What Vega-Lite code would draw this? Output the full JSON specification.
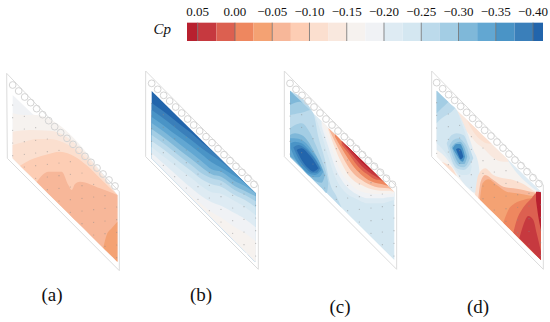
{"$schema":"https://vega.github.io/schema/vega-lite/v6.json","width":550,"height":322,"padding":0,"autosize":{"type":"fit","contains":"padding"},"background":"white","config":{"view":{"stroke":null}},
"datasets":{
"frame":[
{"p":"a","o":0,"x":20,"y":40},{"p":"a","o":1,"x":22,"y":295},{"p":"a","o":2,"x":358,"y":632},{"p":"a","o":3,"x":358,"y":395},{"p":"a","o":4,"x":20,"y":40},
{"p":"b","o":0,"x":437,"y":33},{"p":"b","o":1,"x":437,"y":290},{"p":"b","o":2,"x":775,"y":628},{"p":"b","o":3,"x":775,"y":375},{"p":"b","o":4,"x":437,"y":33},
{"p":"c","o":0,"x":853,"y":33},{"p":"c","o":1,"x":853,"y":290},{"p":"c","o":2,"x":1190,"y":628},{"p":"c","o":3,"x":1190,"y":380},{"p":"c","o":4,"x":853,"y":33},
{"p":"d","o":0,"x":1295,"y":33},{"p":"d","o":1,"x":1295,"y":290},{"p":"d","o":2,"x":1630,"y":628},{"p":"d","o":3,"x":1630,"y":375},{"p":"d","o":4,"x":1295,"y":33}],
"areas":[
{"p":"a0","cp":-0.19,"x":38,"y":105,"y2":295},{"p":"a0","cp":-0.19,"x":352,"y":405,"y2":605},
{"p":"a1","cp":-0.16,"x":38,"y":160,"y2":295},{"p":"a1","cp":-0.16,"x":70,"y":165,"y2":327},{"p":"a1","cp":-0.16,"x":100,"y":164,"y2":356},{"p":"a1","cp":-0.16,"x":352,"y":405,"y2":605},
{"p":"a2","cp":-0.14,"x":38,"y":215,"y2":295},{"p":"a2","cp":-0.14,"x":90,"y":210,"y2":346},{"p":"a2","cp":-0.14,"x":150,"y":212,"y2":406},{"p":"a2","cp":-0.14,"x":352,"y":405,"y2":605},
{"p":"a3","cp":-0.11,"x":38,"y":255,"y2":295},{"p":"a3","cp":-0.11,"x":75,"y":245,"y2":332},{"p":"a3","cp":-0.11,"x":110,"y":237,"y2":366},{"p":"a3","cp":-0.11,"x":150,"y":237,"y2":406},{"p":"a3","cp":-0.11,"x":185,"y":245,"y2":440},{"p":"a3","cp":-0.11,"x":352,"y":405,"y2":605},
{"p":"a4","cp":-0.09,"x":60,"y":317,"y2":317},{"p":"a4","cp":-0.09,"x":90,"y":300,"y2":346},{"p":"a4","cp":-0.09,"x":135,"y":285,"y2":391},{"p":"a4","cp":-0.09,"x":180,"y":275,"y2":435},{"p":"a4","cp":-0.09,"x":225,"y":290,"y2":480},{"p":"a4","cp":-0.09,"x":270,"y":325,"y2":524},{"p":"a4","cp":-0.09,"x":300,"y":355,"y2":554},{"p":"a4","cp":-0.09,"x":352,"y":405,"y2":605},
{"p":"a5","cp":-0.06,"x":110,"y":366,"y2":366},{"p":"a5","cp":-0.06,"x":145,"y":335,"y2":401},{"p":"a5","cp":-0.06,"x":185,"y":335,"y2":440},{"p":"a5","cp":-0.06,"x":205,"y":375,"y2":460},{"p":"a5","cp":-0.06,"x":215,"y":390,"y2":470},{"p":"a5","cp":-0.06,"x":225,"y":372,"y2":480},{"p":"a5","cp":-0.06,"x":240,"y":365,"y2":494},{"p":"a5","cp":-0.06,"x":300,"y":385,"y2":554},{"p":"a5","cp":-0.06,"x":352,"y":405,"y2":605},
{"p":"a6","cp":-0.04,"x":310,"y":563,"y2":563},{"p":"a6","cp":-0.04,"x":320,"y":525,"y2":573},{"p":"a6","cp":-0.04,"x":335,"y":505,"y2":588},{"p":"a6","cp":-0.04,"x":352,"y":485,"y2":605},

{"p":"b0","cp":-0.41,"x":455,"y":93,"y2":294},{"p":"b0","cp":-0.41,"x":767,"y":400,"y2":606},
{"p":"b1","cp":-0.39,"x":455,"y":129,"y2":294},{"p":"b1","cp":-0.39,"x":485,"y":150,"y2":324},{"p":"b1","cp":-0.39,"x":515,"y":173,"y2":354},{"p":"b1","cp":-0.39,"x":545,"y":197,"y2":384},{"p":"b1","cp":-0.39,"x":575,"y":220,"y2":414},{"p":"b1","cp":-0.39,"x":605,"y":247,"y2":444},{"p":"b1","cp":-0.39,"x":635,"y":271,"y2":474},{"p":"b1","cp":-0.39,"x":665,"y":300,"y2":504},{"p":"b1","cp":-0.39,"x":705,"y":340,"y2":544},{"p":"b1","cp":-0.39,"x":735,"y":369,"y2":574},{"p":"b1","cp":-0.39,"x":767,"y":400,"y2":606},
{"p":"b2","cp":-0.36,"x":455,"y":150,"y2":294},{"p":"b2","cp":-0.36,"x":485,"y":171,"y2":324},{"p":"b2","cp":-0.36,"x":515,"y":194,"y2":354},{"p":"b2","cp":-0.36,"x":545,"y":218,"y2":384},{"p":"b2","cp":-0.36,"x":575,"y":241,"y2":414},{"p":"b2","cp":-0.36,"x":605,"y":265,"y2":444},{"p":"b2","cp":-0.36,"x":635,"y":286,"y2":474},{"p":"b2","cp":-0.36,"x":665,"y":306,"y2":504},{"p":"b2","cp":-0.36,"x":705,"y":340,"y2":544},{"p":"b2","cp":-0.36,"x":735,"y":369,"y2":574},{"p":"b2","cp":-0.36,"x":767,"y":400,"y2":606},
{"p":"b3","cp":-0.34,"x":455,"y":171,"y2":294},{"p":"b3","cp":-0.34,"x":485,"y":192,"y2":324},{"p":"b3","cp":-0.34,"x":515,"y":215,"y2":354},{"p":"b3","cp":-0.34,"x":545,"y":236,"y2":384},{"p":"b3","cp":-0.34,"x":575,"y":259,"y2":414},{"p":"b3","cp":-0.34,"x":605,"y":283,"y2":444},{"p":"b3","cp":-0.34,"x":635,"y":307,"y2":474},{"p":"b3","cp":-0.34,"x":665,"y":324,"y2":504},{"p":"b3","cp":-0.34,"x":705,"y":349,"y2":544},{"p":"b3","cp":-0.34,"x":735,"y":369,"y2":574},{"p":"b3","cp":-0.34,"x":767,"y":400,"y2":606},
{"p":"b4","cp":-0.31,"x":455,"y":189,"y2":294},{"p":"b4","cp":-0.31,"x":485,"y":210,"y2":324},{"p":"b4","cp":-0.31,"x":515,"y":233,"y2":354},{"p":"b4","cp":-0.31,"x":545,"y":257,"y2":384},{"p":"b4","cp":-0.31,"x":575,"y":280,"y2":414},{"p":"b4","cp":-0.31,"x":605,"y":304,"y2":444},{"p":"b4","cp":-0.31,"x":635,"y":328,"y2":474},{"p":"b4","cp":-0.31,"x":665,"y":336,"y2":504},{"p":"b4","cp":-0.31,"x":705,"y":364,"y2":544},{"p":"b4","cp":-0.31,"x":735,"y":378,"y2":574},{"p":"b4","cp":-0.31,"x":767,"y":400,"y2":606},
{"p":"b5","cp":-0.29,"x":455,"y":207,"y2":294},{"p":"b5","cp":-0.29,"x":485,"y":228,"y2":324},{"p":"b5","cp":-0.29,"x":515,"y":251,"y2":354},{"p":"b5","cp":-0.29,"x":545,"y":275,"y2":384},{"p":"b5","cp":-0.29,"x":575,"y":298,"y2":414},{"p":"b5","cp":-0.29,"x":605,"y":322,"y2":444},{"p":"b5","cp":-0.29,"x":635,"y":343,"y2":474},{"p":"b5","cp":-0.29,"x":665,"y":351,"y2":504},{"p":"b5","cp":-0.29,"x":705,"y":379,"y2":544},{"p":"b5","cp":-0.29,"x":735,"y":393,"y2":574},{"p":"b5","cp":-0.29,"x":767,"y":409,"y2":606},
{"p":"b6","cp":-0.26,"x":455,"y":225,"y2":294},{"p":"b6","cp":-0.26,"x":485,"y":246,"y2":324},{"p":"b6","cp":-0.26,"x":515,"y":269,"y2":354},{"p":"b6","cp":-0.26,"x":545,"y":293,"y2":384},{"p":"b6","cp":-0.26,"x":575,"y":316,"y2":414},{"p":"b6","cp":-0.26,"x":605,"y":340,"y2":444},{"p":"b6","cp":-0.26,"x":635,"y":355,"y2":474},{"p":"b6","cp":-0.26,"x":665,"y":363,"y2":504},{"p":"b6","cp":-0.26,"x":705,"y":391,"y2":544},{"p":"b6","cp":-0.26,"x":735,"y":405,"y2":574},{"p":"b6","cp":-0.26,"x":767,"y":424,"y2":606},
{"p":"b7","cp":-0.24,"x":455,"y":243,"y2":294},{"p":"b7","cp":-0.24,"x":485,"y":264,"y2":324},{"p":"b7","cp":-0.24,"x":515,"y":287,"y2":354},{"p":"b7","cp":-0.24,"x":545,"y":311,"y2":384},{"p":"b7","cp":-0.24,"x":575,"y":334,"y2":414},{"p":"b7","cp":-0.24,"x":605,"y":358,"y2":444},{"p":"b7","cp":-0.24,"x":635,"y":373,"y2":474},{"p":"b7","cp":-0.24,"x":665,"y":381,"y2":504},{"p":"b7","cp":-0.24,"x":705,"y":406,"y2":544},{"p":"b7","cp":-0.24,"x":735,"y":420,"y2":574},{"p":"b7","cp":-0.24,"x":767,"y":442,"y2":606},
{"p":"b8","cp":-0.21,"x":455,"y":261,"y2":294},{"p":"b8","cp":-0.21,"x":485,"y":285,"y2":324},{"p":"b8","cp":-0.21,"x":515,"y":308,"y2":354},{"p":"b8","cp":-0.21,"x":545,"y":332,"y2":384},{"p":"b8","cp":-0.21,"x":575,"y":355,"y2":414},{"p":"b8","cp":-0.21,"x":605,"y":379,"y2":444},{"p":"b8","cp":-0.21,"x":635,"y":397,"y2":474},{"p":"b8","cp":-0.21,"x":665,"y":402,"y2":504},{"p":"b8","cp":-0.21,"x":705,"y":424,"y2":544},{"p":"b8","cp":-0.21,"x":735,"y":441,"y2":574},{"p":"b8","cp":-0.21,"x":767,"y":466,"y2":606},
{"p":"b9","cp":-0.19,"x":455,"y":279,"y2":294},{"p":"b9","cp":-0.19,"x":485,"y":306,"y2":324},{"p":"b9","cp":-0.19,"x":515,"y":332,"y2":354},{"p":"b9","cp":-0.19,"x":545,"y":359,"y2":384},{"p":"b9","cp":-0.19,"x":575,"y":385,"y2":414},{"p":"b9","cp":-0.19,"x":605,"y":409,"y2":444},{"p":"b9","cp":-0.19,"x":635,"y":427,"y2":474},{"p":"b9","cp":-0.19,"x":665,"y":438,"y2":504},{"p":"b9","cp":-0.19,"x":705,"y":460,"y2":544},{"p":"b9","cp":-0.19,"x":735,"y":477,"y2":574},{"p":"b9","cp":-0.19,"x":767,"y":502,"y2":606},
{"p":"b10","cp":-0.16,"x":455,"y":294,"y2":294},{"p":"b10","cp":-0.16,"x":485,"y":324,"y2":324},{"p":"b10","cp":-0.16,"x":515,"y":353,"y2":354},{"p":"b10","cp":-0.16,"x":545,"y":383,"y2":384},{"p":"b10","cp":-0.16,"x":575,"y":409,"y2":414},{"p":"b10","cp":-0.16,"x":605,"y":433,"y2":444},{"p":"b10","cp":-0.16,"x":635,"y":457,"y2":474},{"p":"b10","cp":-0.16,"x":665,"y":474,"y2":504},{"p":"b10","cp":-0.16,"x":705,"y":502,"y2":544},{"p":"b10","cp":-0.16,"x":735,"y":519,"y2":574},{"p":"b10","cp":-0.16,"x":767,"y":544,"y2":606},

{"p":"c0","cp":-0.24,"x":870,"y":92,"y2":290},{"p":"c0","cp":-0.24,"x":1183,"y":396,"y2":600},
{"p":"c1","cp":-0.26,"x":870,"y":92,"y2":290},{"p":"c1","cp":-0.26,"x":940,"y":160,"y2":359},{"p":"c1","cp":-0.26,"x":955,"y":230,"y2":374},{"p":"c1","cp":-0.26,"x":975,"y":300,"y2":394},{"p":"c1","cp":-0.26,"x":990,"y":370,"y2":408},{"p":"c1","cp":-0.26,"x":1010,"y":410,"y2":428},{"p":"c1","cp":-0.26,"x":1025,"y":443,"y2":443},
{"p":"c2","cp":-0.21,"x":945,"y":165,"y2":165},{"p":"c2","cp":-0.21,"x":965,"y":184,"y2":225},{"p":"c2","cp":-0.21,"x":985,"y":204,"y2":290},{"p":"c2","cp":-0.21,"x":1005,"y":223,"y2":350},{"p":"c2","cp":-0.21,"x":1025,"y":243,"y2":385},{"p":"c2","cp":-0.21,"x":1045,"y":262,"y2":405},{"p":"c2","cp":-0.21,"x":1065,"y":281,"y2":415},{"p":"c2","cp":-0.21,"x":1085,"y":301,"y2":425},{"p":"c2","cp":-0.21,"x":1105,"y":320,"y2":430},{"p":"c2","cp":-0.21,"x":1125,"y":340,"y2":430},{"p":"c2","cp":-0.21,"x":1145,"y":359,"y2":430},{"p":"c2","cp":-0.21,"x":1165,"y":378,"y2":425},{"p":"c2","cp":-0.21,"x":1183,"y":396,"y2":420},
{"p":"c3","cp":-0.19,"x":965,"y":184,"y2":200},{"p":"c3","cp":-0.19,"x":985,"y":204,"y2":260},{"p":"c3","cp":-0.19,"x":1005,"y":223,"y2":320},{"p":"c3","cp":-0.19,"x":1025,"y":243,"y2":360},{"p":"c3","cp":-0.19,"x":1045,"y":262,"y2":385},{"p":"c3","cp":-0.19,"x":1065,"y":281,"y2":400},{"p":"c3","cp":-0.19,"x":1085,"y":301,"y2":410},{"p":"c3","cp":-0.19,"x":1105,"y":320,"y2":415},{"p":"c3","cp":-0.19,"x":1125,"y":340,"y2":415},{"p":"c3","cp":-0.19,"x":1145,"y":359,"y2":415},{"p":"c3","cp":-0.19,"x":1165,"y":378,"y2":412},{"p":"c3","cp":-0.19,"x":1183,"y":396,"y2":410},
{"p":"c4","cp":-0.16,"x":965,"y":184,"y2":188},{"p":"c4","cp":-0.16,"x":985,"y":204,"y2":235},{"p":"c4","cp":-0.16,"x":1005,"y":223,"y2":295},{"p":"c4","cp":-0.16,"x":1025,"y":243,"y2":340},{"p":"c4","cp":-0.16,"x":1045,"y":262,"y2":365},{"p":"c4","cp":-0.16,"x":1065,"y":281,"y2":385},{"p":"c4","cp":-0.16,"x":1085,"y":301,"y2":395},{"p":"c4","cp":-0.16,"x":1105,"y":320,"y2":400},{"p":"c4","cp":-0.16,"x":1125,"y":340,"y2":402},{"p":"c4","cp":-0.16,"x":1145,"y":359,"y2":402},{"p":"c4","cp":-0.16,"x":1165,"y":378,"y2":402},{"p":"c4","cp":-0.16,"x":1183,"y":396,"y2":400},
{"p":"c5","cp":-0.11,"x":985,"y":204,"y2":210},{"p":"c5","cp":-0.11,"x":1005,"y":223,"y2":265},{"p":"c5","cp":-0.11,"x":1025,"y":243,"y2":310},{"p":"c5","cp":-0.11,"x":1045,"y":262,"y2":345},{"p":"c5","cp":-0.11,"x":1065,"y":281,"y2":365},{"p":"c5","cp":-0.11,"x":1085,"y":301,"y2":375},{"p":"c5","cp":-0.11,"x":1105,"y":320,"y2":385},{"p":"c5","cp":-0.11,"x":1125,"y":340,"y2":390},{"p":"c5","cp":-0.11,"x":1145,"y":359,"y2":392},{"p":"c5","cp":-0.11,"x":1165,"y":378,"y2":392},{"p":"c5","cp":-0.11,"x":1183,"y":396,"y2":396},
{"p":"c6","cp":-0.06,"x":985,"y":204,"y2":204},{"p":"c6","cp":-0.06,"x":1005,"y":223,"y2":245},{"p":"c6","cp":-0.06,"x":1025,"y":243,"y2":285},{"p":"c6","cp":-0.06,"x":1045,"y":262,"y2":320},{"p":"c6","cp":-0.06,"x":1065,"y":281,"y2":345},{"p":"c6","cp":-0.06,"x":1085,"y":301,"y2":360},{"p":"c6","cp":-0.06,"x":1105,"y":320,"y2":372},{"p":"c6","cp":-0.06,"x":1125,"y":340,"y2":380},{"p":"c6","cp":-0.06,"x":1145,"y":359,"y2":383},{"p":"c6","cp":-0.06,"x":1165,"y":378,"y2":385},{"p":"c6","cp":-0.06,"x":1183,"y":396,"y2":396},
{"p":"c7","cp":-0.01,"x":1005,"y":223,"y2":230},{"p":"c7","cp":-0.01,"x":1025,"y":243,"y2":265},{"p":"c7","cp":-0.01,"x":1045,"y":262,"y2":297},{"p":"c7","cp":-0.01,"x":1065,"y":281,"y2":325},{"p":"c7","cp":-0.01,"x":1085,"y":301,"y2":345},{"p":"c7","cp":-0.01,"x":1105,"y":320,"y2":360},{"p":"c7","cp":-0.01,"x":1125,"y":340,"y2":368},{"p":"c7","cp":-0.01,"x":1145,"y":359,"y2":372},{"p":"c7","cp":-0.01,"x":1165,"y":378,"y2":378},
{"p":"c8","cp":0.01,"x":1025,"y":243,"y2":255},{"p":"c8","cp":0.01,"x":1045,"y":262,"y2":280},{"p":"c8","cp":0.01,"x":1065,"y":281,"y2":308},{"p":"c8","cp":0.01,"x":1085,"y":301,"y2":330},{"p":"c8","cp":0.01,"x":1105,"y":320,"y2":345},{"p":"c8","cp":0.01,"x":1125,"y":340,"y2":358},{"p":"c8","cp":0.01,"x":1145,"y":359,"y2":362},{"p":"c8","cp":0.01,"x":1165,"y":378,"y2":378},
{"p":"c9","cp":0.04,"x":1025,"y":243,"y2":245},{"p":"c9","cp":0.04,"x":1045,"y":262,"y2":270},{"p":"c9","cp":0.04,"x":1065,"y":281,"y2":295},{"p":"c9","cp":0.04,"x":1085,"y":301,"y2":318},{"p":"c9","cp":0.04,"x":1105,"y":320,"y2":335},{"p":"c9","cp":0.04,"x":1125,"y":340,"y2":348},{"p":"c9","cp":0.04,"x":1145,"y":359,"y2":359},
{"p":"c10","cp":0.06,"x":1035,"y":252,"y2":252},{"p":"c10","cp":0.06,"x":1045,"y":262,"y2":264},{"p":"c10","cp":0.06,"x":1065,"y":281,"y2":285},{"p":"c10","cp":0.06,"x":1085,"y":301,"y2":307},{"p":"c10","cp":0.06,"x":1105,"y":320,"y2":325},{"p":"c10","cp":0.06,"x":1125,"y":340,"y2":341},{"p":"c10","cp":0.06,"x":1135,"y":349,"y2":349},
{"p":"c11","cp":-0.29,"x":870,"y":92,"y2":165},{"p":"c11","cp":-0.29,"x":895,"y":116,"y2":160},{"p":"c11","cp":-0.29,"x":915,"y":136,"y2":155},{"p":"c11","cp":-0.29,"x":930,"y":150,"y2":150},
{"p":"c12","cp":-0.31,"x":870,"y":92,"y2":135},{"p":"c12","cp":-0.31,"x":885,"y":107,"y2":128},{"p":"c12","cp":-0.31,"x":900,"y":121,"y2":125},{"p":"c12","cp":-0.31,"x":910,"y":131,"y2":131},
{"p":"c13","cp":-0.29,"x":870,"y":205,"y2":290},{"p":"c13","cp":-0.29,"x":885,"y":195,"y2":305},{"p":"c13","cp":-0.29,"x":905,"y":190,"y2":325},{"p":"c13","cp":-0.29,"x":925,"y":210,"y2":345},{"p":"c13","cp":-0.29,"x":945,"y":250,"y2":365},{"p":"c13","cp":-0.29,"x":965,"y":300,"y2":384},{"p":"c13","cp":-0.29,"x":980,"y":345,"y2":399},{"p":"c13","cp":-0.29,"x":985,"y":370,"y2":370},
{"p":"c14","cp":-0.31,"x":870,"y":225,"y2":290},{"p":"c14","cp":-0.31,"x":885,"y":220,"y2":305},{"p":"c14","cp":-0.31,"x":905,"y":225,"y2":325},{"p":"c14","cp":-0.31,"x":925,"y":245,"y2":345},{"p":"c14","cp":-0.31,"x":945,"y":280,"y2":362},{"p":"c14","cp":-0.31,"x":965,"y":320,"y2":368},{"p":"c14","cp":-0.31,"x":975,"y":345,"y2":345},
{"p":"c15","cp":-0.34,"x":870,"y":235,"y2":288},{"p":"c15","cp":-0.34,"x":895,"y":236,"y2":310},{"p":"c15","cp":-0.34,"x":915,"y":247,"y2":335},{"p":"c15","cp":-0.34,"x":935,"y":270,"y2":350},{"p":"c15","cp":-0.34,"x":955,"y":300,"y2":352},{"p":"c15","cp":-0.34,"x":970,"y":335,"y2":335},
{"p":"c16","cp":-0.36,"x":872,"y":250,"y2":265},{"p":"c16","cp":-0.36,"x":885,"y":245,"y2":295},{"p":"c16","cp":-0.36,"x":905,"y":250,"y2":322},{"p":"c16","cp":-0.36,"x":925,"y":268,"y2":340},{"p":"c16","cp":-0.36,"x":945,"y":295,"y2":345},{"p":"c16","cp":-0.36,"x":965,"y":330,"y2":330},
{"p":"c17","cp":-0.39,"x":880,"y":262,"y2":262},{"p":"c17","cp":-0.39,"x":895,"y":255,"y2":295},{"p":"c17","cp":-0.39,"x":915,"y":265,"y2":322},{"p":"c17","cp":-0.39,"x":935,"y":285,"y2":338},{"p":"c17","cp":-0.39,"x":950,"y":305,"y2":338},{"p":"c17","cp":-0.39,"x":960,"y":325,"y2":325},
{"p":"c18","cp":-0.41,"x":890,"y":270,"y2":270},{"p":"c18","cp":-0.41,"x":905,"y":265,"y2":300},{"p":"c18","cp":-0.41,"x":925,"y":282,"y2":325},{"p":"c18","cp":-0.41,"x":940,"y":300,"y2":335},{"p":"c18","cp":-0.41,"x":955,"y":325,"y2":325},

{"p":"d0","cp":-0.16,"x":1310,"y":92,"y2":290},{"p":"d0","cp":-0.16,"x":1623,"y":395,"y2":600},
{"p":"d1","cp":-0.14,"x":1370,"y":150,"y2":150},{"p":"d1","cp":-0.14,"x":1390,"y":169,"y2":200},{"p":"d1","cp":-0.14,"x":1410,"y":189,"y2":225},{"p":"d1","cp":-0.14,"x":1430,"y":208,"y2":250},{"p":"d1","cp":-0.14,"x":1450,"y":227,"y2":265},{"p":"d1","cp":-0.14,"x":1470,"y":247,"y2":285},{"p":"d1","cp":-0.14,"x":1490,"y":266,"y2":300},{"p":"d1","cp":-0.14,"x":1510,"y":285,"y2":305},{"p":"d1","cp":-0.14,"x":1530,"y":305,"y2":305},
{"p":"d2","cp":-0.11,"x":1400,"y":179,"y2":179},{"p":"d2","cp":-0.11,"x":1420,"y":198,"y2":215},{"p":"d2","cp":-0.11,"x":1440,"y":218,"y2":238},{"p":"d2","cp":-0.11,"x":1460,"y":237,"y2":250},{"p":"d2","cp":-0.11,"x":1475,"y":252,"y2":252},
{"p":"d3","cp":-0.21,"x":1310,"y":92,"y2":270},{"p":"d3","cp":-0.21,"x":1330,"y":111,"y2":285},{"p":"d3","cp":-0.21,"x":1350,"y":131,"y2":310},{"p":"d3","cp":-0.21,"x":1370,"y":150,"y2":340},{"p":"d3","cp":-0.21,"x":1390,"y":190,"y2":369},{"p":"d3","cp":-0.21,"x":1410,"y":240,"y2":389},{"p":"d3","cp":-0.21,"x":1420,"y":270,"y2":397},{"p":"d3","cp":-0.21,"x":1435,"y":310,"y2":400},{"p":"d3","cp":-0.21,"x":1442,"y":370,"y2":370},
{"p":"d4","cp":-0.24,"x":1310,"y":92,"y2":250},{"p":"d4","cp":-0.24,"x":1330,"y":111,"y2":270},{"p":"d4","cp":-0.24,"x":1350,"y":131,"y2":300},{"p":"d4","cp":-0.24,"x":1370,"y":150,"y2":330},{"p":"d4","cp":-0.24,"x":1385,"y":190,"y2":345},{"p":"d4","cp":-0.24,"x":1400,"y":235,"y2":345},{"p":"d4","cp":-0.24,"x":1410,"y":285,"y2":340},{"p":"d4","cp":-0.24,"x":1415,"y":320,"y2":320},
{"p":"d5","cp":-0.26,"x":1310,"y":92,"y2":190},{"p":"d5","cp":-0.26,"x":1325,"y":107,"y2":175},{"p":"d5","cp":-0.26,"x":1340,"y":121,"y2":165},{"p":"d5","cp":-0.26,"x":1355,"y":136,"y2":155},{"p":"d5","cp":-0.26,"x":1365,"y":145,"y2":145},
{"p":"d6","cp":-0.29,"x":1310,"y":92,"y2":160},{"p":"d6","cp":-0.29,"x":1325,"y":107,"y2":145},{"p":"d6","cp":-0.29,"x":1345,"y":126,"y2":126},
{"p":"d7","cp":-0.26,"x":1340,"y":250,"y2":250},{"p":"d7","cp":-0.26,"x":1355,"y":225,"y2":300},{"p":"d7","cp":-0.26,"x":1370,"y":220,"y2":325},{"p":"d7","cp":-0.26,"x":1390,"y":225,"y2":330},{"p":"d7","cp":-0.26,"x":1405,"y":255,"y2":320},{"p":"d7","cp":-0.26,"x":1420,"y":295,"y2":295},
{"p":"d8","cp":-0.29,"x":1348,"y":258,"y2":258},{"p":"d8","cp":-0.29,"x":1360,"y":240,"y2":295},{"p":"d8","cp":-0.29,"x":1375,"y":235,"y2":318},{"p":"d8","cp":-0.29,"x":1390,"y":245,"y2":322},{"p":"d8","cp":-0.29,"x":1402,"y":265,"y2":312},{"p":"d8","cp":-0.29,"x":1410,"y":295,"y2":295},
{"p":"d9","cp":-0.31,"x":1355,"y":262,"y2":262},{"p":"d9","cp":-0.31,"x":1365,"y":250,"y2":290},{"p":"d9","cp":-0.31,"x":1380,"y":245,"y2":312},{"p":"d9","cp":-0.31,"x":1392,"y":260,"y2":312},{"p":"d9","cp":-0.31,"x":1402,"y":290,"y2":290},
{"p":"d10","cp":-0.36,"x":1358,"y":265,"y2":265},{"p":"d10","cp":-0.36,"x":1370,"y":252,"y2":285},{"p":"d10","cp":-0.36,"x":1380,"y":252,"y2":300},{"p":"d10","cp":-0.36,"x":1388,"y":265,"y2":305},{"p":"d10","cp":-0.36,"x":1395,"y":290,"y2":290},
{"p":"d11","cp":-0.41,"x":1368,"y":268,"y2":268},{"p":"d11","cp":-0.41,"x":1375,"y":265,"y2":285},{"p":"d11","cp":-0.41,"x":1382,"y":268,"y2":298},{"p":"d11","cp":-0.41,"x":1390,"y":290,"y2":290},
{"p":"d12","cp":-0.11,"x":1325,"y":305,"y2":305},{"p":"d12","cp":-0.11,"x":1340,"y":312,"y2":320},{"p":"d12","cp":-0.11,"x":1355,"y":322,"y2":335},{"p":"d12","cp":-0.11,"x":1370,"y":349,"y2":349},
{"p":"d13","cp":-0.21,"x":1520,"y":295,"y2":295},{"p":"d13","cp":-0.21,"x":1550,"y":324,"y2":338},{"p":"d13","cp":-0.21,"x":1580,"y":353,"y2":368},{"p":"d13","cp":-0.21,"x":1610,"y":382,"y2":392},{"p":"d13","cp":-0.21,"x":1623,"y":395,"y2":400},
{"p":"d14","cp":-0.11,"x":1425,"y":404,"y2":404},{"p":"d14","cp":-0.11,"x":1435,"y":345,"y2":414},{"p":"d14","cp":-0.11,"x":1455,"y":325,"y2":434},{"p":"d14","cp":-0.11,"x":1480,"y":345,"y2":458},{"p":"d14","cp":-0.11,"x":1510,"y":355,"y2":488},{"p":"d14","cp":-0.11,"x":1540,"y":360,"y2":518},{"p":"d14","cp":-0.11,"x":1570,"y":372,"y2":548},{"p":"d14","cp":-0.11,"x":1600,"y":392,"y2":578},{"p":"d14","cp":-0.11,"x":1623,"y":402,"y2":600},
{"p":"d15","cp":-0.06,"x":1435,"y":414,"y2":414},{"p":"d15","cp":-0.06,"x":1442,"y":365,"y2":421},{"p":"d15","cp":-0.06,"x":1455,"y":345,"y2":434},{"p":"d15","cp":-0.06,"x":1480,"y":360,"y2":458},{"p":"d15","cp":-0.06,"x":1510,"y":380,"y2":488},{"p":"d15","cp":-0.06,"x":1540,"y":385,"y2":518},{"p":"d15","cp":-0.06,"x":1570,"y":390,"y2":548},{"p":"d15","cp":-0.06,"x":1600,"y":397,"y2":578},{"p":"d15","cp":-0.06,"x":1623,"y":402,"y2":600},
{"p":"d16","cp":-0.04,"x":1440,"y":419,"y2":419},{"p":"d16","cp":-0.04,"x":1448,"y":370,"y2":427},{"p":"d16","cp":-0.04,"x":1465,"y":358,"y2":444},{"p":"d16","cp":-0.04,"x":1490,"y":375,"y2":468},{"p":"d16","cp":-0.04,"x":1520,"y":395,"y2":498},{"p":"d16","cp":-0.04,"x":1550,"y":400,"y2":528},{"p":"d16","cp":-0.04,"x":1580,"y":405,"y2":558},{"p":"d16","cp":-0.04,"x":1605,"y":408,"y2":583},{"p":"d16","cp":-0.04,"x":1623,"y":402,"y2":600},
{"p":"d17","cp":-0.01,"x":1510,"y":488,"y2":488},{"p":"d17","cp":-0.01,"x":1525,"y":450,"y2":503},{"p":"d17","cp":-0.01,"x":1545,"y":430,"y2":523},{"p":"d17","cp":-0.01,"x":1570,"y":420,"y2":548},{"p":"d17","cp":-0.01,"x":1595,"y":415,"y2":573},{"p":"d17","cp":-0.01,"x":1610,"y":415,"y2":588},{"p":"d17","cp":-0.01,"x":1623,"y":415,"y2":600},
{"p":"d18","cp":0.01,"x":1540,"y":518,"y2":518},{"p":"d18","cp":0.01,"x":1552,"y":475,"y2":530},{"p":"d18","cp":0.01,"x":1565,"y":450,"y2":543},{"p":"d18","cp":0.01,"x":1580,"y":430,"y2":558},{"p":"d18","cp":0.01,"x":1595,"y":415,"y2":573},{"p":"d18","cp":0.01,"x":1608,"y":400,"y2":586},{"p":"d18","cp":0.01,"x":1623,"y":398,"y2":600},
{"p":"d19","cp":0.04,"x":1558,"y":535,"y2":535},{"p":"d19","cp":0.04,"x":1570,"y":495,"y2":547},{"p":"d19","cp":0.04,"x":1585,"y":468,"y2":562},{"p":"d19","cp":0.04,"x":1600,"y":480,"y2":577},{"p":"d19","cp":0.04,"x":1610,"y":520,"y2":587},{"p":"d19","cp":0.04,"x":1623,"y":575,"y2":600},
{"p":"d20","cp":0.06,"x":1608,"y":395,"y2":420},{"p":"d20","cp":0.06,"x":1615,"y":395,"y2":470},{"p":"d20","cp":0.06,"x":1623,"y":397,"y2":510}],
"circles":[
{"x":38,"y":75},{"x":56,"y":93},{"x":74,"y":111},{"x":92,"y":128},{"x":110,"y":146},{"x":128,"y":164},{"x":146,"y":182},{"x":164,"y":200},{"x":182,"y":218},{"x":201,"y":235},{"x":219,"y":253},{"x":237,"y":271},{"x":255,"y":289},{"x":273,"y":307},{"x":291,"y":324},{"x":309,"y":342},{"x":327,"y":360},{"x":345,"y":378},
{"x":455,"y":70},{"x":473,"y":88},{"x":491,"y":106},{"x":509,"y":123},{"x":527,"y":141},{"x":545,"y":159},{"x":563,"y":177},{"x":581,"y":195},{"x":599,"y":213},{"x":618,"y":230},{"x":636,"y":248},{"x":654,"y":266},{"x":672,"y":284},{"x":690,"y":302},{"x":708,"y":319},{"x":726,"y":337},{"x":744,"y":355},{"x":762,"y":373},
{"x":870,"y":70},{"x":888,"y":88},{"x":906,"y":106},{"x":924,"y":123},{"x":942,"y":141},{"x":960,"y":159},{"x":978,"y":177},{"x":996,"y":195},{"x":1014,"y":213},{"x":1033,"y":230},{"x":1051,"y":248},{"x":1069,"y":266},{"x":1087,"y":284},{"x":1105,"y":302},{"x":1123,"y":319},{"x":1141,"y":337},{"x":1159,"y":355},{"x":1177,"y":373},
{"x":1310,"y":68},{"x":1328,"y":86},{"x":1346,"y":104},{"x":1364,"y":121},{"x":1382,"y":139},{"x":1400,"y":157},{"x":1418,"y":175},{"x":1436,"y":193},{"x":1454,"y":211},{"x":1473,"y":228},{"x":1491,"y":246},{"x":1509,"y":264},{"x":1527,"y":282},{"x":1545,"y":300},{"x":1563,"y":317},{"x":1581,"y":335},{"x":1599,"y":353},{"x":1617,"y":371}],
"dots":[
{"x":38,"y":135},{"x":38,"y":173},{"x":38,"y":211},{"x":38,"y":249},{"x":38,"y":287},{"x":73,"y":169},{"x":73,"y":207},{"x":73,"y":245},{"x":73,"y":283},{"x":73,"y":321},{"x":107,"y":203},{"x":107,"y":241},{"x":107,"y":279},{"x":107,"y":317},{"x":107,"y":355},{"x":142,"y":237},{"x":142,"y":275},{"x":142,"y":313},{"x":142,"y":351},{"x":142,"y":389},{"x":177,"y":271},{"x":177,"y":309},{"x":177,"y":347},{"x":177,"y":385},{"x":177,"y":423},{"x":211,"y":305},{"x":211,"y":343},{"x":211,"y":381},{"x":211,"y":419},{"x":211,"y":457},{"x":246,"y":339},{"x":246,"y":377},{"x":246,"y":415},{"x":246,"y":453},{"x":246,"y":491},{"x":281,"y":373},{"x":281,"y":411},{"x":281,"y":449},{"x":281,"y":487},{"x":281,"y":525},{"x":315,"y":407},{"x":315,"y":445},{"x":315,"y":483},{"x":315,"y":521},{"x":315,"y":559},{"x":350,"y":441},{"x":350,"y":479},{"x":350,"y":517},{"x":350,"y":555},{"x":350,"y":593},
{"x":455,"y":130},{"x":455,"y":168},{"x":455,"y":206},{"x":455,"y":244},{"x":455,"y":282},{"x":490,"y":164},{"x":490,"y":202},{"x":490,"y":240},{"x":490,"y":278},{"x":490,"y":316},{"x":524,"y":198},{"x":524,"y":236},{"x":524,"y":274},{"x":524,"y":312},{"x":524,"y":350},{"x":559,"y":232},{"x":559,"y":270},{"x":559,"y":308},{"x":559,"y":346},{"x":559,"y":384},{"x":594,"y":266},{"x":594,"y":304},{"x":594,"y":342},{"x":594,"y":380},{"x":594,"y":418},{"x":628,"y":300},{"x":628,"y":338},{"x":628,"y":376},{"x":628,"y":414},{"x":628,"y":452},{"x":663,"y":334},{"x":663,"y":372},{"x":663,"y":410},{"x":663,"y":448},{"x":663,"y":486},{"x":698,"y":368},{"x":698,"y":406},{"x":698,"y":444},{"x":698,"y":482},{"x":698,"y":520},{"x":732,"y":402},{"x":732,"y":440},{"x":732,"y":478},{"x":732,"y":516},{"x":732,"y":554},{"x":767,"y":436},{"x":767,"y":474},{"x":767,"y":512},{"x":767,"y":550},{"x":767,"y":588},
{"x":870,"y":130},{"x":870,"y":168},{"x":870,"y":206},{"x":870,"y":244},{"x":870,"y":282},{"x":905,"y":164},{"x":905,"y":202},{"x":905,"y":240},{"x":905,"y":278},{"x":905,"y":316},{"x":939,"y":198},{"x":939,"y":236},{"x":939,"y":274},{"x":939,"y":312},{"x":939,"y":350},{"x":974,"y":232},{"x":974,"y":270},{"x":974,"y":308},{"x":974,"y":346},{"x":974,"y":384},{"x":1009,"y":266},{"x":1009,"y":304},{"x":1009,"y":342},{"x":1009,"y":380},{"x":1009,"y":418},{"x":1043,"y":300},{"x":1043,"y":338},{"x":1043,"y":376},{"x":1043,"y":414},{"x":1043,"y":452},{"x":1078,"y":334},{"x":1078,"y":372},{"x":1078,"y":410},{"x":1078,"y":448},{"x":1078,"y":486},{"x":1113,"y":368},{"x":1113,"y":406},{"x":1113,"y":444},{"x":1113,"y":482},{"x":1113,"y":520},{"x":1147,"y":402},{"x":1147,"y":440},{"x":1147,"y":478},{"x":1147,"y":516},{"x":1147,"y":554},{"x":1182,"y":436},{"x":1182,"y":474},{"x":1182,"y":512},{"x":1182,"y":550},{"x":1182,"y":588},
{"x":1310,"y":128},{"x":1310,"y":166},{"x":1310,"y":204},{"x":1310,"y":242},{"x":1310,"y":280},{"x":1345,"y":162},{"x":1345,"y":200},{"x":1345,"y":238},{"x":1345,"y":276},{"x":1345,"y":314},{"x":1379,"y":196},{"x":1379,"y":234},{"x":1379,"y":272},{"x":1379,"y":310},{"x":1379,"y":348},{"x":1414,"y":230},{"x":1414,"y":268},{"x":1414,"y":306},{"x":1414,"y":344},{"x":1414,"y":382},{"x":1449,"y":264},{"x":1449,"y":302},{"x":1449,"y":340},{"x":1449,"y":378},{"x":1449,"y":416},{"x":1483,"y":298},{"x":1483,"y":336},{"x":1483,"y":374},{"x":1483,"y":412},{"x":1483,"y":450},{"x":1518,"y":332},{"x":1518,"y":370},{"x":1518,"y":408},{"x":1518,"y":446},{"x":1518,"y":484},{"x":1553,"y":366},{"x":1553,"y":404},{"x":1553,"y":442},{"x":1553,"y":480},{"x":1553,"y":518},{"x":1587,"y":400},{"x":1587,"y":438},{"x":1587,"y":476},{"x":1587,"y":514},{"x":1587,"y":552},{"x":1622,"y":434},{"x":1622,"y":472},{"x":1622,"y":510},{"x":1622,"y":548},{"x":1622,"y":586}],
"captions":[{"x":156,"y":705,"t":"(a)"},{"x":603,"y":705,"t":"(b)"},{"x":1020,"y":741,"t":"(c)"},{"x":1434,"y":741,"t":"(d)"}],
"bands":[{"a":0.0644,"b":0.05,"cp":0.06},{"a":0.05,"b":0.025,"cp":0.04},{"a":0.025,"b":0,"cp":0.01},{"a":0,"b":-0.025,"cp":-0.01},{"a":-0.025,"b":-0.05,"cp":-0.04},{"a":-0.05,"b":-0.075,"cp":-0.06},{"a":-0.075,"b":-0.1,"cp":-0.09},{"a":-0.1,"b":-0.125,"cp":-0.11},{"a":-0.125,"b":-0.15,"cp":-0.14},{"a":-0.15,"b":-0.175,"cp":-0.16},{"a":-0.175,"b":-0.2,"cp":-0.19},{"a":-0.2,"b":-0.225,"cp":-0.21},{"a":-0.225,"b":-0.25,"cp":-0.24},{"a":-0.25,"b":-0.275,"cp":-0.26},{"a":-0.275,"b":-0.3,"cp":-0.29},{"a":-0.3,"b":-0.325,"cp":-0.31},{"a":-0.325,"b":-0.35,"cp":-0.34},{"a":-0.35,"b":-0.375,"cp":-0.36},{"a":-0.375,"b":-0.4,"cp":-0.39},{"a":-0.4,"b":-0.4134,"cp":-0.41}],
"ticks":[{"v":0.05,"t":"0.05"},{"v":0,"t":"0.00"},{"v":-0.05,"t":"−0.05"},{"v":-0.1,"t":"−0.10"},{"v":-0.15,"t":"−0.15"},{"v":-0.2,"t":"−0.20"},{"v":-0.25,"t":"−0.25"},{"v":-0.3,"t":"−0.30"},{"v":-0.35,"t":"−0.35"},{"v":-0.4,"t":"−0.40"}]
},
"layer":[
{"encoding":{"x":{"field":"x","type":"quantitative","scale":{"domain":[0,1650],"nice":false,"zero":false},"axis":null},"y":{"field":"y","type":"quantitative","scale":{"domain":[786,-180],"nice":false,"zero":false},"axis":null}},
"layer":[
{"data":{"name":"frame"},"mark":{"type":"line","color":"#dcdcdc","strokeWidth":1},"encoding":{"detail":{"field":"p"},"order":{"field":"o","type":"quantitative"}}},
{"data":{"name":"areas"},"mark":{"type":"area","opacity":1,"interpolate":"monotone"},"encoding":{"y2":{"field":"y2"},"detail":{"field":"p"},"color":{"field":"cp","type":"quantitative","legend":null,"scale":{"type":"threshold","domain":[-0.4,-0.375,-0.35,-0.325,-0.3,-0.275,-0.25,-0.225,-0.2,-0.175,-0.15,-0.125,-0.1,-0.075,-0.05,-0.025,0,0.025,0.05],"range":["#2265ac","#3a7fba","#4a94c6","#62a7d2","#7fb8d9","#a3cde4","#bcdaeb","#d4e7f1","#deebf3","#f0f2f5","#f6f2ef","#f9e8de","#fbdfcf","#fdcdb4","#f7b799","#f4a273","#ee875f","#dc6050","#c6393f","#b8202f"]}}}},
{"data":{"name":"dots"},"mark":{"type":"point","filled":true,"size":1.5,"color":"#8a8a8a","opacity":0.55}},
{"data":{"name":"circles"},"mark":{"type":"point","filled":false,"size":46,"color":"#d4d4d4","strokeWidth":1,"opacity":1}},
{"data":{"name":"captions"},"mark":{"type":"text","font":"Liberation Serif","fontSize":19,"color":"#111111","align":"center","baseline":"middle"},"encoding":{"text":{"field":"t"}}},
{"data":{"values":[{"x":487,"y":-93,"t":"Cp"}]},"mark":{"type":"text","font":"Liberation Serif","fontStyle":"italic","fontSize":15,"color":"#111111","align":"center","baseline":"middle"},"encoding":{"text":{"field":"t"}}}
]},
{"encoding":{"x":{"field":"v","type":"quantitative","scale":{"domain":[0.0644,-0.4134],"range":[187,543],"nice":false,"zero":false},"axis":null}},
"layer":[
{"data":{"name":"bands"},"mark":{"type":"rect"},"encoding":{"x":{"field":"a","type":"quantitative","scale":{"domain":[0.0644,-0.4134],"range":[187,543],"nice":false,"zero":false},"axis":null},"x2":{"field":"b"},"y":{"datum":-112,"type":"quantitative"},"y2":{"datum":-57},"color":{"field":"cp","type":"quantitative","legend":null,"scale":{"type":"threshold","domain":[-0.4,-0.375,-0.35,-0.325,-0.3,-0.275,-0.25,-0.225,-0.2,-0.175,-0.15,-0.125,-0.1,-0.075,-0.05,-0.025,0,0.025,0.05],"range":["#2265ac","#3a7fba","#4a94c6","#62a7d2","#7fb8d9","#a3cde4","#bcdaeb","#d4e7f1","#deebf3","#f0f2f5","#f6f2ef","#f9e8de","#fbdfcf","#fdcdb4","#f7b799","#f4a273","#ee875f","#dc6050","#c6393f","#b8202f"]}}}},
{"data":{"name":"ticks"},"mark":{"type":"rule","color":"#6e6e6e","strokeWidth":0.8},"encoding":{"y":{"datum":-112,"type":"quantitative"},"y2":{"datum":-57}}},
{"data":{"name":"ticks"},"mark":{"type":"text","font":"Liberation Serif","fontSize":13,"color":"#111111","align":"center","baseline":"middle"},"encoding":{"y":{"datum":-144,"type":"quantitative"},"text":{"field":"t"}}}
]}
],
"resolve":{"scale":{"x":"independent"}}}
